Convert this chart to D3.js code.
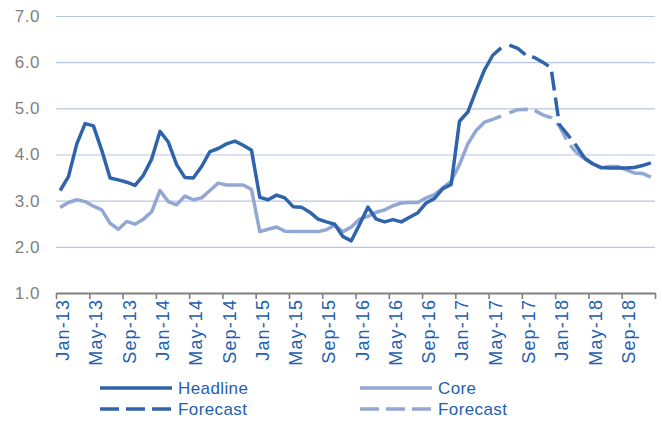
<!DOCTYPE html>
<html>
<head>
<meta charset="utf-8">
<script src="https://cdn.jsdelivr.net/npm/d3@7/dist/d3.min.js"></script>
<style>
  body { margin: 0; background: #fff; }
  text { font-family: Arial, "Liberation Sans", sans-serif; }
</style>
</head>
<body>
<script>
// monthly categories Jan-13 .. Dec-18
const monthNames = ['Jan', 'Feb', 'Mar', 'Apr', 'May', 'Jun', 'Jul', 'Aug', 'Sep', 'Oct', 'Nov', 'Dec']
const years = ['13', '14', '15', '16', '17', '18']
const months = years.flatMap(y => monthNames.map(m => m + '-' + y))

const headline = [
  3.22, 3.52, 4.23, 4.67, 4.62, 4.09, 3.49, 3.45, 3.40, 3.33, 3.55, 3.90,
  4.50, 4.27, 3.78, 3.50, 3.49, 3.74, 4.06, 4.13, 4.23, 4.29, 4.20, 4.09,
  3.07, 3.02, 3.12, 3.06, 2.87, 2.86, 2.75, 2.60, 2.54, 2.49, 2.22, 2.13,
  2.49, 2.86, 2.60, 2.54, 2.59, 2.54, 2.64, 2.74, 2.95, 3.05, 3.26, 3.35,
  4.72, 4.92, 5.39, 5.83, 6.15, 6.31, 6.37, 6.30, 6.15, 6.10, 6.00, 5.88,
  4.65, 4.43, 4.20, 3.93, 3.80, 3.72, 3.71, 3.71, 3.71, 3.72, 3.76, 3.82
]
const core = [
  2.85, 2.96, 3.02, 2.98, 2.88, 2.80, 2.51, 2.38, 2.55, 2.49, 2.60, 2.76,
  3.22, 2.98, 2.91, 3.10, 3.02, 3.06, 3.22, 3.38, 3.34, 3.34, 3.34, 3.24,
  2.33, 2.38, 2.43, 2.34, 2.33, 2.33, 2.33, 2.33, 2.37, 2.47, 2.33, 2.43,
  2.60, 2.66, 2.75, 2.80, 2.89, 2.95, 2.96, 2.96, 3.06, 3.13, 3.28, 3.42,
  3.78, 4.23, 4.52, 4.70, 4.76, 4.83, 4.90, 4.97, 4.98, 4.96, 4.86, 4.80,
  4.62, 4.27, 4.05, 3.91, 3.80, 3.71, 3.74, 3.74, 3.67, 3.60, 3.59, 3.51
]
// first and last month drawn dashed
const headlineForecast = ['Jul-17', 'Apr-18']
const coreForecast = ['Jul-17', 'Mar-18']

const yTicks = [1, 2, 3, 4, 5, 6, 7]
const labelEvery = 4

const headColor = '#2f64aa'
const coreColor = '#93a7d5'
const textBlue = '#2360ae'

var width = 662,
    height = 433
var svg = d3.select('body').append('svg')
    .attr('width', width)
    .attr('height', height)

var x = d3.scaleBand().domain(months).range([56, 655])
var xEdge = d3.scaleLinear().domain([0, months.length]).range(x.range())
var y = d3.scaleLinear().domain([1, 7]).range([293, 16])
const xc = m => x(m) + x.bandwidth() / 2

// y grid + labels
var gy = svg.append('g')
    .attr('transform', 'translate(56,0)')
    .call(d3.axisLeft(y).tickValues(yTicks).tickSize(-599).tickPadding(16).tickFormat(d3.format('.1f')))
gy.select('.domain').remove()
gy.selectAll('line').attr('stroke', '#b8c5e3').attr('stroke-width', 1.2)
gy.selectAll('text').attr('fill', '#7f7f7f').style('font-size', '17px').style('letter-spacing', '0.5px')

// x axis line + ticks every 4 months
var gx = svg.append('g')
    .attr('transform', 'translate(0,293)')
    .call(d3.axisBottom(xEdge).tickValues(d3.range(0, months.length + 1, labelEvery)).tickSize(6).tickSizeOuter(0).tickFormat(''))
gx.select('.domain').attr('stroke', '#808080').attr('stroke-width', 2)
gx.selectAll('line').attr('stroke', '#808080').attr('stroke-width', 1.6)

// rotated month labels
var gl = svg.append('g')
    .attr('transform', 'translate(0,293)')
    .call(d3.axisBottom(x).tickValues(months.filter((d, i) => i % labelEvery == 0)).tickSize(0))
gl.select('.domain').remove()
gl.selectAll('text')
    .attr('transform', 'rotate(-90)')
    .attr('x', -6).attr('y', 9).attr('dy', 0)
    .attr('text-anchor', 'end')
    .attr('fill', textBlue)
    .style('font-size', '18px').style('letter-spacing', '1.1px')

var line = d3.line()
    .x(d => xc(d.m))
    .y(d => y(d.v))

function draw(values, fc, color) {
    let pts = values.map((v, i) => ({m: months[i], v: v}))
    let a = months.indexOf(fc[0]), b = months.indexOf(fc[1])
    // actual, then gap of one month, dashed forecast, solid tail
    let parts = [
        {d: pts.slice(0, a), dash: null},
        {d: pts.slice(a, b + 1), dash: '19,7'},
        {d: pts.slice(b), dash: null}
    ]
    parts.forEach(p => {
        svg.append('path')
            .datum(p.d)
            .attr('d', line)
            .attr('fill', 'none')
            .attr('stroke', color)
            .attr('stroke-width', 3.5)
            .attr('stroke-linejoin', 'round')
            .attr('stroke-dasharray', p.dash)
    })
}
draw(core, coreForecast, coreColor)
draw(headline, headlineForecast, headColor)

// legend
const legendItems = [
    {label: 'Headline', color: headColor, dash: null, x: 100, y: 388},
    {label: 'Core', color: coreColor, dash: null, x: 360, y: 388},
    {label: 'Forecast', color: headColor, dash: '19,7', x: 100, y: 409},
    {label: 'Forecast', color: coreColor, dash: '19,7', x: 360, y: 409}
]
var lg = svg.selectAll('.leg').data(legendItems).enter().append('g')
    .attr('transform', d => `translate(${d.x},${d.y})`)
lg.append('line')
    .attr('x1', 0).attr('x2', 72)
    .attr('stroke', d => d.color)
    .attr('stroke-width', 3.5)
    .attr('stroke-dasharray', d => d.dash)
lg.append('text')
    .attr('x', 78).attr('dy', '0.36em')
    .attr('fill', textBlue)
    .style('font-size', '17px').style('letter-spacing', '0.4px')
    .text(d => d.label)
</script>
</body>
</html>
